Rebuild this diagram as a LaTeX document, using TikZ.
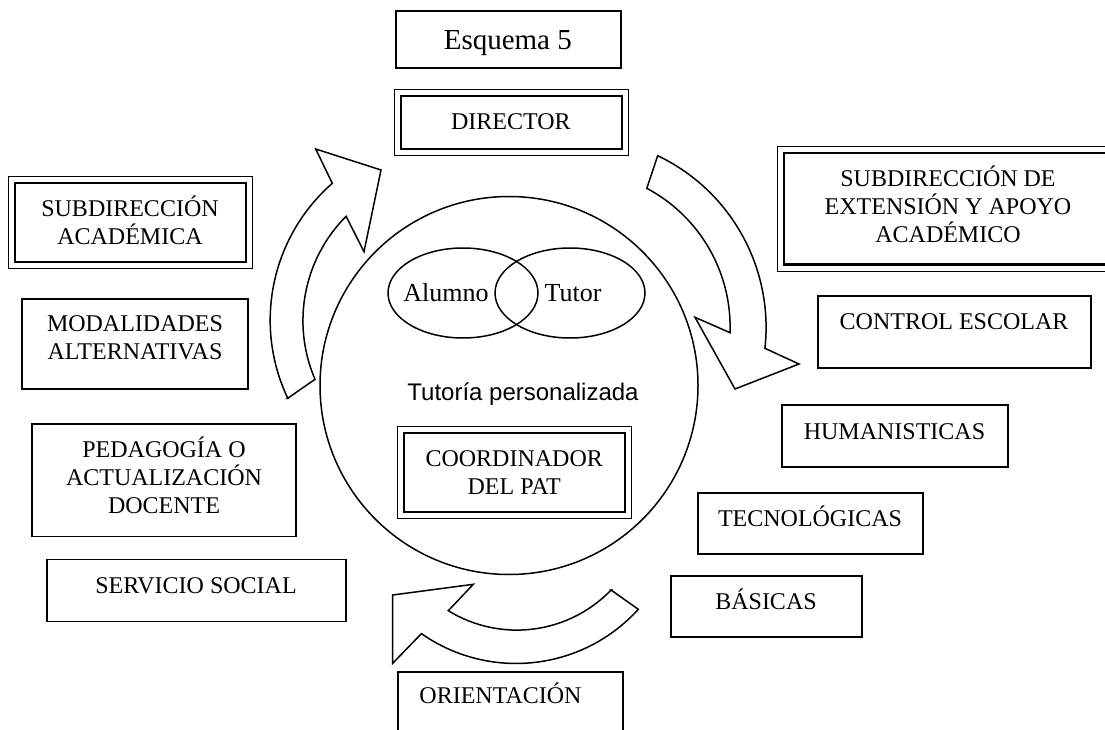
\documentclass[tikz,border=0pt]{standalone}
\usepackage{fontspec}
\setmainfont{Liberation Serif}
\newfontfamily\arialf{Liberation Sans}
\usetikzlibrary{shapes.geometric}
\begin{document}
\begin{tikzpicture}[x=1pt,y=-1pt,
  box/.style={draw, rectangle, inner sep=0pt, line width=1.6pt},
  dbox/.style={draw, rectangle, inner sep=0pt, line width=2.2pt},
  lbl/.style={anchor=base, align=center, inner sep=0pt, font=\fontsize{24}{28}\selectfont},
  blockarrow/.style={draw, fill=white, line width=1.5pt, line join=miter},
  oval/.style={draw, ellipse, inner sep=0pt, line width=1.5pt}
]
\useasboundingbox (0,0) rectangle (1105,730);
\clip (0,0) rectangle (1105,730);

% central circle and ellipses
\node[draw, circle, inner sep=0pt, minimum size=378pt, line width=1.5pt] (circ) at (509,385.5) {};
\node[oval, minimum width=150pt, minimum height=90pt] (alov) at (463,293) {};
\node[oval, minimum width=150pt, minimum height=90pt] (tuov) at (570,293) {};
\node[lbl, font=\fontsize{26}{30}\selectfont] (alt) at (446,301.7) {Alumno};
\node[lbl, font=\fontsize{26}{30}\selectfont] (tut) at (573,301.7) {Tutor};
\node[lbl, font=\arialf\fontsize{24}{28}\selectfont] (tpt) at (523,400) {Tutoría personalizada};

% simple boxes
\node[box, minimum width=225pt, minimum height=57pt] (esqbox) at (508.5,39.5) {};
\node[lbl, font=\fontsize{29}{33}\selectfont] (esqt) at (507.8,49.3) {Esquema 5};

\node[box, minimum width=226pt, minimum height=90pt] (modbox) at (135,344) {};
\node[lbl] (modt) at (135,359) {MODALIDADES\\ALTERNATIVAS};

\node[box, minimum width=264pt, minimum height=112.4pt] (pedbox) at (164,480.2) {};
\node[lbl] (pedt) at (164,513) {PEDAGOGÍA O\\ACTUALIZACIÓN\\DOCENTE};

\node[box, minimum width=299pt, minimum height=61.8pt] (servbox) at (196.2,590.5) {};
\node[lbl] (servt) at (196,593) {SERVICIO SOCIAL};

\node[box, minimum width=273pt, minimum height=72.3pt] (ctrlbox) at (954.2,331.85) {};
\node[lbl] (ctrlt) at (954,329) {CONTROL ESCOLAR};

\node[box, minimum width=225.7pt, minimum height=61.7pt] (humbox) at (894.85,435.85) {};
\node[lbl] (humt) at (894.5,439.3) {HUMANISTICAS};

\node[box, minimum width=225.3pt, minimum height=61pt] (tecbox) at (810.35,523.5) {};
\node[lbl] (tect) at (810,526.7) {TECNOLÓGICAS};

\node[box, minimum width=190.7pt, minimum height=61pt] (basbox) at (766.35,606.2) {};
\node[lbl] (bast) at (766,609) {BÁSICAS};

\node[box, minimum width=225pt, minimum height=88.3pt] (oribox) at (510.5,715.85) {};
\node[lbl] (orit) at (500.5,703) {ORIENTACIÓN};

% double boxes (thin outer, thick inner)
\node[dbox, minimum width=221pt, minimum height=53pt] (dirbox) at (511.5,122.5) {};
\draw[line width=1pt] ([xshift=-5.5pt,yshift=5.5pt]dirbox.north west) rectangle ([xshift=5.5pt,yshift=-5.5pt]dirbox.south east);
\node[lbl] (dirt) at (510.8,129.3) {DIRECTOR};

\node[dbox, minimum width=230.7pt, minimum height=78.9pt] (acadbox) at (130.35,222.35) {};
\draw[line width=1pt] ([xshift=-5.5pt,yshift=5.5pt]acadbox.north west) rectangle ([xshift=5.5pt,yshift=-5.5pt]acadbox.south east);
\node[lbl] (acadt) at (130,244) {SUBDIRECCIÓN\\ACADÉMICA};

\node[dbox, minimum width=327.7pt, minimum height=111.8pt] (extbox) at (948.15,208.6) {};
\draw[line width=1pt] ([xshift=-5.5pt,yshift=5.5pt]extbox.north west) rectangle ([xshift=5.5pt,yshift=-5.5pt]extbox.south east);
\node[lbl] (extt) at (948,242) {SUBDIRECCIÓN DE\\EXTENSIÓN Y APOYO\\ACADÉMICO};

\node[dbox, minimum width=221pt, minimum height=79pt] (coordbox) at (514.5,472.5) {};
\draw[line width=1pt] ([xshift=-5.5pt,yshift=5.5pt]coordbox.north west) rectangle ([xshift=5.5pt,yshift=-5.5pt]coordbox.south east);
\node[lbl] (coordt) at (514.2,494) {COORDINADOR\\DEL PAT};

% curved block arrows
\draw[blockarrow] (287.7,398.3) -- (315,379.3)
  arc[start angle=-156.7, end angle=-224.9, radius=148pt]
  -- (364,251.7) -- (381,170) -- (315.7,149) -- (332.3,183.3)
  arc[start angle=-228.8, end angle=-154.6, radius=182pt] -- cycle;

\draw[blockarrow] (657.7,155.7)
  arc[start angle=64.5, end angle=-6.3, radius=190.3pt]
  -- (799,364) -- (735,389) -- (695,317.3) -- (730,332.7)
  arc[start angle=-2.1, end angle=62, radius=157pt] -- cycle;

\draw[blockarrow] (611,590) -- (638.3,609.3)
  arc[start angle=-42.2, end angle=-125, radius=165pt]
  -- (392.7,663.3) -- (392.7,595) -- (473.3,584.3) -- (448.3,610.7)
  arc[start angle=-121.6, end angle=-43.9, radius=130.8pt] -- cycle;
\end{tikzpicture}
\end{document}
